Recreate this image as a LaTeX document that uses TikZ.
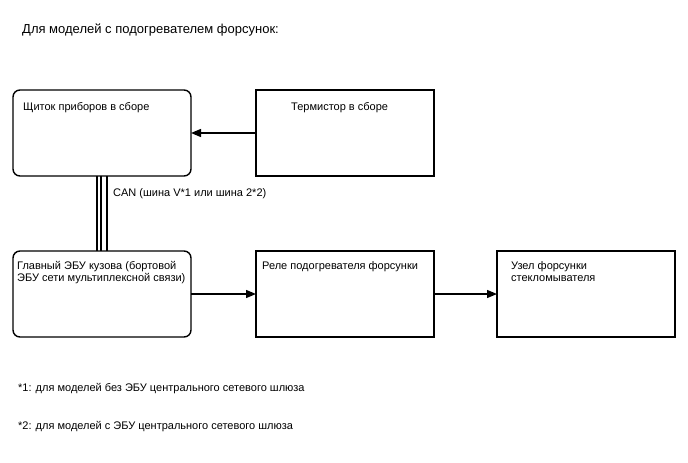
\documentclass[tikz,border=0pt]{standalone}
\usepackage{fontspec}
\setmainfont{Liberation Sans}
\usetikzlibrary{arrows.meta,positioning}
\tikzset{
  blk/.style={rectangle, draw=black, line width=1.4pt, fill=white,
    minimum width=178pt, minimum height=86pt, inner sep=0pt, outer sep=0pt},
  rblk/.style={blk, rounded corners=7pt},
  txt/.style={anchor=base west, inner sep=0pt, font=\fontsize{11}{12.5}\selectfont, align=left},
  sarrow/.style={-{Triangle[length=10pt,width=8pt]}, line width=1.3pt},
  canline/.style={line width=#1}
}

\begin{document}
\begin{tikzpicture}[x=1pt, y=-1pt]
        \useasboundingbox (0,0) rectangle (688,463);
        \node[txt, font=\fontsize{13}{15}\selectfont] (title) at (22,33) {Для моделей с подогревателем форсунок:};
        \node[rblk, anchor=north west] (shchitok) at (13,90) {};
        \node[blk, right=65pt of shchitok] (termistor) {};
        \node[rblk, below=75pt of shchitok] (ebu) {};
        \node[blk, right=65pt of ebu] (rele) {};
        \node[blk, right=63pt of rele] (uzel) {};
        % texts inside the boxes (multi-line ones are placed by their last line)
        \node[txt] (t1) at ([xshift=10pt,yshift=-20pt]shchitok.north west) {Щиток приборов в сборе};
        \node[txt] (t2) at ([xshift=35pt,yshift=-20pt]termistor.north west) {Термистор в сборе};
        \node[txt] (t3) at ([xshift=4pt,yshift=-30.5pt]ebu.north west) {Главный ЭБУ кузова (бортовой\\ЭБУ сети мультиплексной связи)};
        \node[txt] (t4) at ([xshift=6pt,yshift=-18pt]rele.north west) {Реле подогревателя форсунки};
        \node[txt] (t5) at ([xshift=14pt,yshift=-30.5pt]uzel.north west) {Узел форсунки\\стекломывателя};
        % connectors
        \draw[sarrow] (termistor) -- (shchitok);
        \draw[sarrow] (ebu) -- (rele);
        \draw[sarrow] (rele) -- (uzel);
        \draw[canline=2.6pt] ([xshift=84pt]shchitok.south west) -- ([xshift=84pt]ebu.north west);
        \draw[canline=1.6pt] ([xshift=88pt]shchitok.south west) -- ([xshift=88pt]ebu.north west);
        \draw[canline=1.3pt] ([xshift=94pt]shchitok.south west) -- ([xshift=94pt]ebu.north west);
        \node[txt] (can) at (113,196) {CAN (шина V*1 или шина 2*2)};
        % footnotes
        \node[txt] (fn1) at (18,391) {*1: для моделей без ЭБУ центрального сетевого шлюза};
        \node[txt] (fn2) at (18,429) {*2: для моделей с ЭБУ центрального сетевого шлюза};
      \end{tikzpicture}
\end{document}
